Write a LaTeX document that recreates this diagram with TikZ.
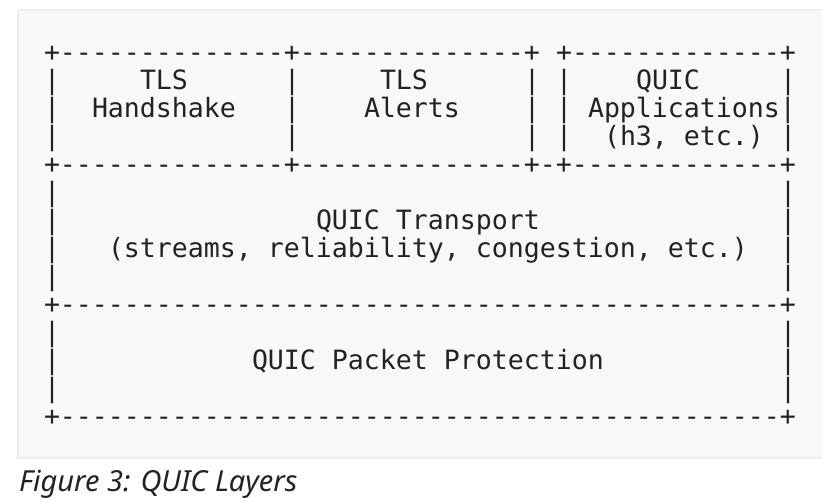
\documentclass[tikz,border=0pt]{standalone}
\usepackage{fontspec}
\newfontfamily\ascfont{DejaVu Sans Mono}[Ligatures=TeXOff]
\newfontfamily\capfont{Noto Sans}
\definecolor{bgfill}{HTML}{F8F8F8}
\definecolor{bgline}{HTML}{EEEEEE}
\definecolor{ink}{HTML}{222222}
\tikzset{
  asc/.style={inner sep=0pt, outer sep=0pt, anchor=base west, text=ink,
    font=\ascfont\fontsize{26.57pt}{28pt}\selectfont},
  captext/.style={inner sep=0pt, anchor=base west, text=ink,
    font=\capfont\itshape\fontsize{29pt}{34pt}\selectfont},
  panel/.style={fill=bgfill, draw=bgline, line width=1.5pt}
}
% \cell{name}{col}{row}{text}
\newcommand\cell[4]{\node[asc] (#1) at ({44+16*#2},{61.5+28*#3}) {#4};}
\begin{document}
\begin{tikzpicture}[x=1pt,y=-1pt]
\useasboundingbox (0,0) rectangle (822,502);
\draw[panel] (18,10) rectangle (830,458);
% row 0
\cell{a0}{0}{0}{+--------------+--------------+}
\cell{b0}{32}{0}{+-------------+}
% row 1
\cell{a1}{0}{1}{|}
\cell{tlsa}{6}{1}{TLS}
\cell{b1}{15}{1}{|}
\cell{tlsb}{21}{1}{TLS}
\cell{c1}{30}{1}{|}
\cell{d1}{32}{1}{|}
\cell{quic}{37}{1}{QUIC}
\cell{e1}{46}{1}{|}
% row 2
\cell{a2}{0}{2}{|}
\cell{hs}{3}{2}{Handshake}
\cell{b2}{15}{2}{|}
\cell{al}{20}{2}{Alerts}
\cell{c2}{30}{2}{|}
\cell{d2}{32}{2}{|}
\cell{apps}{34}{2}{Applications|}
% row 3
\cell{a3}{0}{3}{|}
\cell{b3}{15}{3}{|}
\cell{c3}{30}{3}{|}
\cell{d3}{32}{3}{|}
\cell{h3}{35}{3}{(h3, etc.)}
\cell{e3}{46}{3}{|}
% row 4
\cell{sep1}{0}{4}{+--------------+--------------+-+-------------+}
% rows 5-8
\cell{a5}{0}{5}{|}\cell{e5}{46}{5}{|}
\cell{a6}{0}{6}{|}\cell{qt}{17}{6}{QUIC Transport}\cell{e6}{46}{6}{|}
\cell{a7}{0}{7}{|}\cell{st}{4}{7}{(streams, reliability, congestion, etc.)}\cell{e7}{46}{7}{|}
\cell{a8}{0}{8}{|}\cell{e8}{46}{8}{|}
% row 9
\cell{sep2}{0}{9}{+---------------------------------------------+}
% rows 10-12
\cell{a10}{0}{10}{|}\cell{e10}{46}{10}{|}
\cell{a11}{0}{11}{|}\cell{pp}{13}{11}{QUIC Packet Protection}\cell{e11}{46}{11}{|}
\cell{a12}{0}{12}{|}\cell{e12}{46}{12}{|}
% row 13
\cell{sep3}{0}{13}{+---------------------------------------------+}
% caption
\node[captext] (cap) at (19,491) {Figure 3: QUIC Layers};
\end{tikzpicture}
\end{document}
